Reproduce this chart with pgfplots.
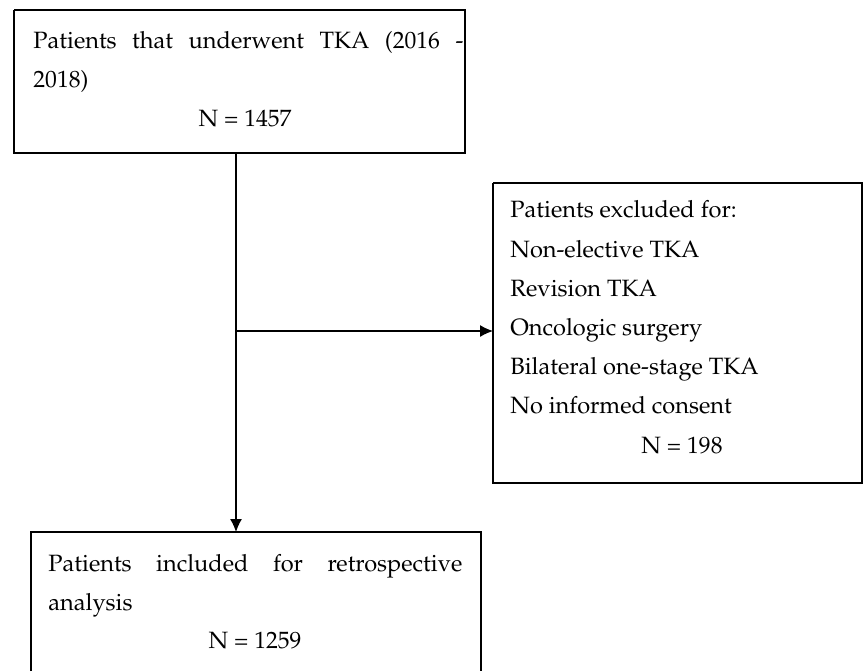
\documentclass[border=0pt]{standalone}
\usepackage[T1]{fontenc}
\usepackage{mathpazo}
\usepackage{pgfplots}
\pgfplotsset{compat=1.18}
\usetikzlibrary{arrows.meta}
\begin{document}
\begin{tikzpicture}[txt/.style={inner sep=0pt, font=\fontsize{11.8}{19.5}\selectfont},
  ln/.style={line width=0.6pt, black, mark=none}]
\begin{axis}[
  scale only axis, width=431.5pt, height=335.5pt,
  xmin=0, xmax=863, ymin=0, ymax=671, y dir=reverse,
  axis lines=none, clip=false,
]
% invisible frame fixing the picture's extent
\addplot[draw=none, mark=none] coordinates {(0,0) (863,671)};
% boxes
\addplot[ln] coordinates {(14,10) (465,10) (465,153) (14,153) (14,10)};
\addplot[ln] coordinates {(493,183) (862,183) (862,483) (493,483) (493,183)};
\addplot[ln] coordinates {(31,671) (31,532) (481,532) (481,671)};
% connectors
\addplot[ln, -{Latex[length=6.5pt,width=6pt]}] coordinates {(236,153) (236,532)};
\addplot[ln, -{Latex[length=6.5pt,width=6pt]}] coordinates {(236,331) (493,331)};
% box 1 text
\node[txt, anchor=base west, text width=215pt, align=justify] at (axis cs:33,48)
  {Patients that underwent TKA (2016 - 2018)};
\node[txt, anchor=base] at (axis cs:245,126) {N = 1457};
% box 2 text
\node[txt, anchor=base west] at (axis cs:510,217) {Patients excluded for:};
\node[txt, anchor=base west] at (axis cs:510,257) {Non-elective TKA};
\node[txt, anchor=base west] at (axis cs:510,296) {Revision TKA};
\node[txt, anchor=base west] at (axis cs:510,335) {Oncologic surgery};
\node[txt, anchor=base west] at (axis cs:510,374) {Bilateral one-stage TKA};
\node[txt, anchor=base west] at (axis cs:510,413) {No informed consent};
\node[txt, anchor=base] at (axis cs:682,453) {N = 198};
% box 3 text
\node[txt, anchor=base west, text width=207pt, align=justify] at (axis cs:48,571)
  {Patients included for retrospective \mbox{analysis}};
\node[txt, anchor=base] at (axis cs:255,648) {N = 1259};
\end{axis}
\end{tikzpicture}
\end{document}
